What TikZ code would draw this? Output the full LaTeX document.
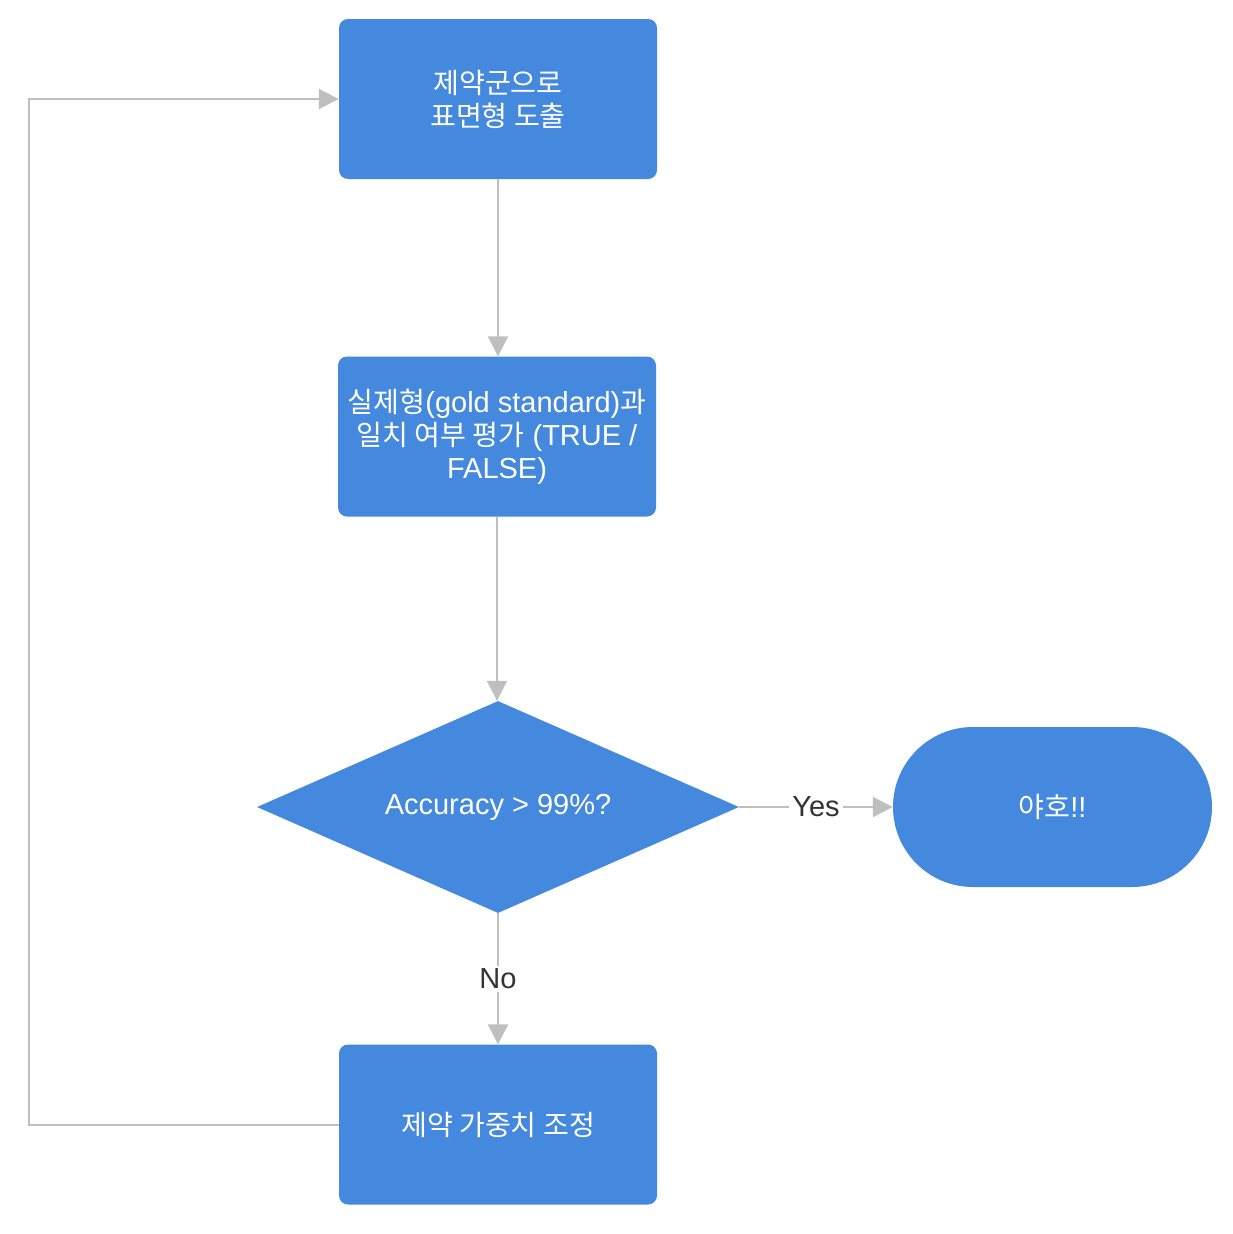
\documentclass[tikz,border=0pt]{standalone}
\usepackage{fontspec}
\setmainfont{Liberation Sans}
\newfontfamily\kr[Scale=0.97]{Noto Sans CJK KR}
\usetikzlibrary{shapes.geometric,arrows.meta}
\definecolor{nodeblue}{HTML}{4589DE}
\definecolor{linegray}{HTML}{BFBFBF}
\definecolor{labeltext}{HTML}{333333}
\begin{document}
\begin{tikzpicture}[x=1pt,y=-1pt,
  base/.style={fill=nodeblue, draw=none, text=white, align=center, inner sep=0pt,
    font=\fontsize{29}{33}\selectfont},
  box/.style={base, rectangle, rounded corners=9pt, minimum width=318pt, minimum height=160pt},
  decision/.style={base, diamond, shape aspect=2.27, minimum width=482pt, minimum height=212pt},
  terminal/.style={base, rectangle, rounded corners=80pt, minimum width=319pt, minimum height=160pt},
  conn/.style={draw=linegray, line width=2pt, -{Triangle[length=20pt,width=20pt]}},
  lbl/.style={fill=white, text=labeltext, inner sep=3pt, font=\fontsize{29}{33}\selectfont}]
\useasboundingbox (0,0) rectangle (1232,1234);
\node[box] (a) at (498,99) {{\kr 제약군으로}\\{\kr 표면형 도출}};
\node[box] (b) at (497,436.5) {{\kr 실제형}(gold standard){\kr 과}\\{\kr 일치 여부 평가} (TRUE /\\FALSE)};
\node[decision] (d) at (498,807) {Accuracy > 99\%?};
\node[terminal] (t) at (1052.5,807) {{\kr 야호}!!};
\node[box] (e) at (498,1124.5) {{\kr 제약 가중치 조정}};
\draw[conn] (a) -- (a |- b.north);
\draw[conn] (b) -- (b |- d.north);
\draw[conn] (d) -- node[lbl]{Yes} (t);
\draw[conn] (d) -- node[lbl]{No} (e);
\draw[conn] (e.west) -- ++(-310,0) |- (a.west);
\end{tikzpicture}
\end{document}
